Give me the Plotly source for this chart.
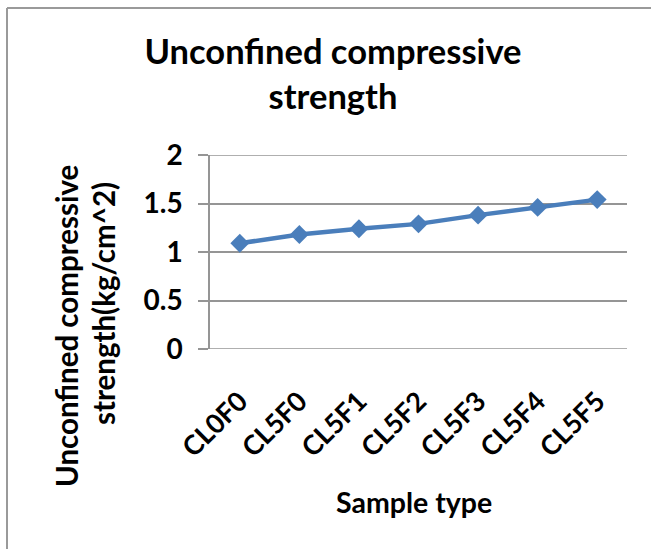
import plotly.graph_objects as go

# ---- data ----
categories = ["CL0F0", "CL5F0", "CL5F1", "CL5F2", "CL5F3", "CL5F4", "CL5F5"]
strength = [1.09, 1.18, 1.24, 1.29, 1.38, 1.46, 1.54]
y_ticks = [0, 0.5, 1, 1.5, 2]
y_tick_text = ["0", "0.5", "1", "1.5", "2"]

title_text = "Unconfined compressive<br>strength"
ytitle_line1 = "Unconfined compressive"
ytitle_line2 = "strength(kg/cm^2)"
xtitle_text = "Sample type"

# ---- layout geometry (pixels) ----
W, H = 651, 549
L, R, T, B = 210, 24, 155, 200
PW, PH = W - L - R, H - T - B

def pxx(px):
    return (px - L) / PW

def pxy(py):
    return (H - B - py) / PH

FONT = "Lato"
BLUE = "#4A7EBB"
GRID = "#959595"

fig = go.Figure()
fig.add_trace(go.Scatter(
    x=categories, y=strength, mode="lines+markers",
    line=dict(color=BLUE, width=4.5),
    marker=dict(symbol="diamond", size=14.5, color=BLUE),
    cliponaxis=False, showlegend=False,
))

fig.update_layout(
    template="none",
    width=W, height=H,
    margin=dict(l=L, r=R, t=T, b=B, autoexpand=False),
    paper_bgcolor="white", plot_bgcolor="white",
    font=dict(family=FONT, color="black"),
    title=dict(
        text=title_text, x=333 / W, xanchor="center", xref="container",
        y=1 - 64 / H, yanchor="top", yref="container",
        font=dict(family=FONT, size=34.5, weight="bold", color="black"),
    ),
    xaxis=dict(
        type="category", range=[-0.5, 6.5], automargin=False,
        showgrid=False, zeroline=False, showline=False,
        ticks="", tickangle=-45,
        tickfont=dict(family=FONT, size=27, weight="bold", color="black"),
        ticklabelstandoff=30,
    ),
    yaxis=dict(
        range=[0, 2], tickvals=y_ticks, ticktext=y_tick_text, automargin=False,
        showgrid=True, gridcolor=GRID, gridwidth=1.5,
        zeroline=False, showline=True, linecolor=GRID, linewidth=1.5,
        ticks="outside", ticklen=10, tickcolor=GRID, tickwidth=1.5,
        tickfont=dict(family=FONT, size=28, weight="bold", color="black"),
        ticklabelstandoff=10,
    ),
    shapes=[
        dict(type="line", xref="paper", yref="paper",
             x0=pxx(7), x1=pxx(651), y0=pxy(8), y1=pxy(8),
             line=dict(color="#9a9a9a", width=2)),
        dict(type="line", xref="paper", yref="paper",
             x0=pxx(7), x1=pxx(7), y0=pxy(8), y1=pxy(549),
             line=dict(color="#9a9a9a", width=2)),
        dict(type="line", xref="paper", yref="y",
             x0=pxx(200), x1=1, y0=0, y1=0,
             line=dict(color=GRID, width=1.5)),
        dict(type="line", xref="paper", yref="y",
             x0=0, x1=1, y0=2, y1=2,
             line=dict(color=GRID, width=1.5)),
    ],
    annotations=[
        dict(text=ytitle_line1, xref="paper", yref="paper",
             x=pxx(66), y=pxy(326), xanchor="center", yanchor="middle",
             textangle=-90, showarrow=False,
             font=dict(family=FONT, size=29.5, weight="bold", color="black")),
        dict(text=ytitle_line2, xref="paper", yref="paper",
             x=pxx(103), y=pxy(304), xanchor="center", yanchor="middle",
             textangle=-90, showarrow=False,
             font=dict(family=FONT, size=29.5, weight="bold", color="black")),
        dict(text=xtitle_text, xref="paper", yref="paper",
             x=pxx(414), y=pxy(502), xanchor="center", yanchor="middle",
             showarrow=False,
             font=dict(family=FONT, size=28.5, weight="bold", color="black")),
    ],
)

fig.write_html("out.html", config={"displayModeBar": False},
               post_script="document.body.style.margin='0px';")
